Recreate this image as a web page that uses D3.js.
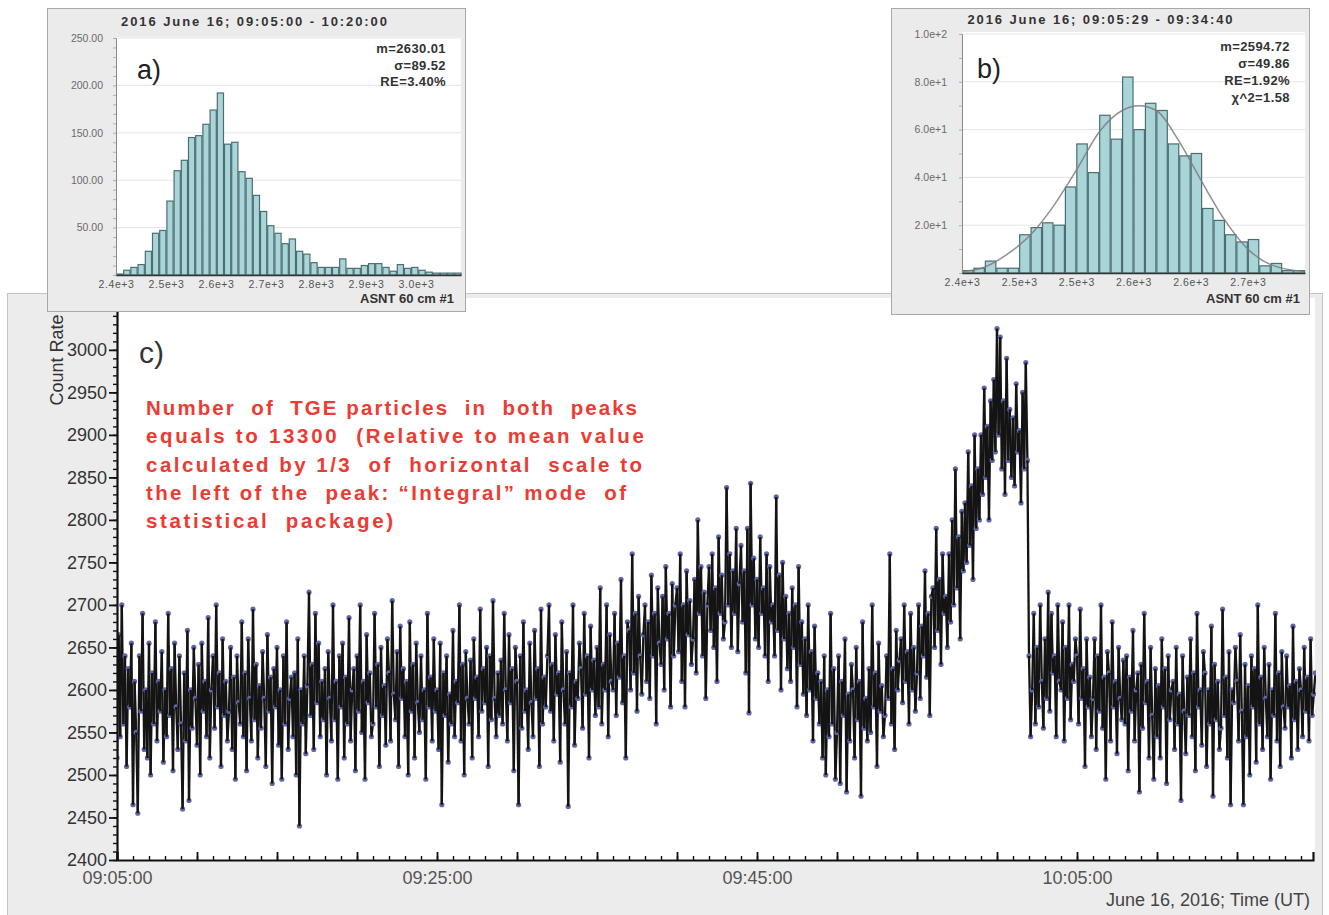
<!DOCTYPE html>
<html>
<head>
<meta charset="utf-8">
<script src="https://cdn.jsdelivr.net/npm/d3@7/dist/d3.min.js"></script>
<style>
html,body{margin:0;padding:0;background:#fff;}
svg{display:block;font-family:"Liberation Sans",Arial,Helvetica,sans-serif;}
</style>
</head>
<body>
<svg id="chart" width="1329" height="915"></svg>
<script>
// ================= DATA =================
const seriesStart = "2016-06-16T09:05:00Z";
const seriesStepSeconds = 6;
const xDomainEnd = "2016-06-16T10:19:45Z";
const countRate = [
2520,2665,2545,2700,2560,2640,2510,2625,2580,2655,
2465,2610,2550,2455,2640,2575,2690,2530,2600,2520,
2655,2500,2620,2560,2680,2540,2610,2575,2645,2515,
2600,2545,2690,2570,2625,2505,2655,2580,2530,2640,
2560,2460,2620,2540,2670,2470,2600,2555,2650,2590,
2535,2630,2500,2655,2575,2610,2545,2685,2520,2600,
2640,2555,2700,2580,2620,2510,2660,2570,2610,2540,
2575,2650,2530,2615,2495,2640,2585,2560,2680,2545,
2620,2505,2660,2590,2540,2695,2565,2630,2520,2605,
2555,2645,2590,2510,2665,2575,2615,2490,2625,2580,
2650,2535,2600,2495,2640,2560,2680,2530,2590,2615,
2545,2620,2500,2660,2440,2600,2560,2640,2525,2605,
2715,2570,2630,2530,2690,2585,2655,2545,2610,2565,
2625,2500,2645,2590,2540,2700,2565,2610,2495,2640,
2580,2655,2520,2615,2560,2685,2540,2600,2625,2505,
2640,2575,2700,2550,2610,2495,2665,2585,2620,2545,
2560,2690,2580,2630,2510,2650,2570,2605,2535,2660,
2620,2540,2705,2595,2565,2645,2510,2675,2590,2625,
2545,2610,2500,2680,2575,2630,2520,2655,2585,2550,
2640,2565,2600,2495,2690,2580,2615,2540,2660,2575,
2600,2530,2655,2465,2620,2570,2640,2515,2595,2560,
2670,2545,2610,2585,2700,2540,2630,2500,2645,2590,
2560,2635,2520,2660,2590,2615,2545,2695,2575,2625,
2585,2650,2510,2640,2565,2705,2590,2545,2620,2570,
2635,2560,2690,2600,2540,2665,2585,2625,2505,2650,
2610,2465,2640,2555,2680,2575,2600,2530,2655,2585,
2545,2670,2590,2625,2510,2695,2560,2615,2580,2640,
2700,2575,2630,2540,2665,2595,2620,2515,2680,2600,
2560,2645,2463,2620,2580,2700,2535,2610,2590,2655,
2625,2555,2690,2595,2640,2520,2675,2600,2635,2570,
2650,2580,2720,2560,2630,2600,2700,2545,2665,2610,
2600,2690,2570,2655,2615,2730,2585,2640,2520,2680,
2670,2600,2760,2620,2690,2575,2710,2640,2595,2665,
2700,2610,2680,2590,2735,2640,2690,2560,2720,2655,
2630,2710,2600,2745,2660,2690,2580,2725,2640,2700,
2720,2645,2760,2610,2700,2580,2740,2665,2705,2630,
2660,2730,2620,2800,2690,2745,2640,2715,2590,2700,
2745,2670,2760,2650,2720,2610,2780,2690,2735,2660,
2680,2838,2700,2760,2650,2740,2690,2790,2645,2725,
2770,2680,2740,2620,2790,2573,2843,2700,2755,2660,
2730,2650,2780,2690,2720,2640,2760,2610,2745,2680,
2700,2640,2827,2670,2735,2600,2750,2660,2710,2625,
2690,2610,2720,2650,2700,2580,2745,2630,2680,2595,
2660,2570,2700,2600,2645,2540,2675,2590,2620,2560,
2610,2520,2640,2500,2600,2545,2690,2560,2625,2495,
2550,2640,2490,2610,2570,2660,2480,2595,2540,2630,
2600,2520,2650,2565,2610,2475,2680,2555,2590,2540,
2625,2550,2700,2580,2620,2510,2655,2575,2605,2545,
2570,2640,2590,2760,2560,2625,2530,2670,2600,2635,
2660,2585,2700,2610,2645,2560,2690,2600,2650,2575,
2620,2700,2590,2675,2640,2740,2615,2690,2570,2710,
2720,2650,2790,2670,2730,2630,2760,2690,2710,2650,
2760,2680,2800,2700,2860,2720,2780,2660,2810,2740,
2820,2750,2880,2770,2840,2730,2900,2790,2860,2800,
2900,2830,2955,2850,2910,2800,2940,2870,2965,2880,
3025,2900,3015,2860,2940,2830,2990,2870,2930,2850,
2920,2840,2960,2880,2905,2820,2950,2860,2985,2870,
2640,2545,2600,2690,2560,2650,2580,2700,2610,2555,
2660,2590,2715,2575,2690,2620,2640,2545,2700,2610,
2600,2680,2540,2650,2590,2700,2565,2630,2610,2660,
2640,2560,2695,2590,2625,2510,2660,2580,2615,2545,
2590,2660,2530,2640,2575,2700,2555,2615,2495,2645,
2620,2540,2680,2580,2610,2525,2650,2590,2565,2635,
2560,2640,2505,2615,2575,2670,2540,2600,2620,2480,
2630,2555,2690,2585,2610,2520,2650,2570,2495,2625,
2545,2605,2520,2660,2580,2625,2490,2640,2565,2600,
2610,2530,2650,2560,2595,2470,2640,2575,2525,2615,
2570,2660,2545,2620,2505,2690,2580,2600,2535,2645,
2620,2510,2600,2560,2675,2475,2630,2565,2610,2530,
2555,2695,2570,2615,2520,2645,2465,2600,2585,2650,
2610,2540,2665,2575,2465,2630,2545,2605,2500,2640,
2580,2625,2515,2700,2560,2615,2530,2650,2590,2545,
2630,2495,2600,2570,2690,2540,2620,2510,2645,2580,
2555,2640,2580,2605,2520,2675,2565,2610,2530,2625,
2600,2545,2650,2575,2615,2540,2660,2570,2595,2620
];
const yTickValues = [2400,2450,2500,2550,2600,2650,2700,2750,2800,2850,2900,2950,3000];
const xLabelTimes = ["09:05:00","09:25:00","09:45:00","10:05:00"];
const yAxisTitle = "Count Rate";
const xAxisTitle = "June 16, 2016; Time (UT)";
const panelLabelC = "c)";
const noteLines = [
  "Number  of  TGE particles  in  both  peaks",
  "equals to 13300  (Relative to mean value",
  "calculated by 1/3  of  horizontal  scale to",
  "the left of the  peak: \u201cIntegral\u201d mode  of",
  "statistical  package)"
];

const histA_title = "2016 June 16; 09:05:00 - 10:20:00";
const histA_binStart = 2400;
const histA_binWidth = 14.4;
const histA_counts = [1,5,8,11,25,44,47,78,110,121,145,147,159,174,192,138,140,109,102,84,67,52,44,33,38,25,22,13,8,8,8,17,7,7,10,12,12,8,4,11,7,8,5,3,2,2,2,2];
const histA_yTicks = [50,100,150,200,250];
const histA_xTicks = [2400,2500,2600,2700,2800,2900,3000];
const histA_xLabels = ["2.4e+3","2.5e+3","2.6e+3","2.7e+3","2.8e+3","2.9e+3","3.0e+3"];
const histA_stats = ["m=2630.01","\u03c3=89.52","RE=3.40%"];
const histA_label = "a)";
const histA_axisTitle = "ASNT 60 cm #1";

const histB_title = "2016 June 16; 09:05:29 - 09:34:40";
const histB_binStart = 2400;
const histB_binWidth = 10;
const histB_counts = [1,2,5,2,2,16,19,21,20,36,54,42,66,56,82,60,71,68,54,49,50,27,22,16,13,14,3,4,1,1];
const histB_yTicks = [20,40,60,80,100];
const histB_yLabels = ["2.0e+1","4.0e+1","6.0e+1","8.0e+1","1.0e+2"];
const histB_xTicks = [2400,2450,2500,2550,2600,2650];
const histB_xLabels = ["2.4e+3","2.5e+3","2.5e+3","2.6e+3","2.6e+3","2.7e+3"];
const histB_fitX = [2400,2420,2440,2460,2480,2500,2520,2540,2555,2570,2590,2610,2630,2650,2670,2700];
const histB_fitY = [0.5,2.5,8,16,28,43,59,68,70,68,55,38,22,10,3.5,0.5];
const histB_stats = ["m=2594.72","\u03c3=49.86","RE=1.92%","\u03c7^2=1.58"];
const histB_label = "b)";
const histB_axisTitle = "ASNT 60 cm #1";

// ================= DRAW =================
const svg = d3.select("#chart");
const defs = svg.append("defs");

// ---- main panel ----
svg.append("rect").attr("x",7.5).attr("y",293.5).attr("width",1315).attr("height",640)
  .attr("fill","#ececec").attr("stroke","#c4c4c4");
const M = {l:117, r:1313, t:298, b:860};
svg.append("rect").attr("x",M.l).attr("y",M.t).attr("width",M.r+2-M.l).attr("height",M.b-M.t).attr("fill","#fff");

const parseUTC = d3.utcParse("%Y-%m-%dT%H:%M:%SZ");
const t0 = parseUTC(seriesStart);
const tEnd = parseUTC(xDomainEnd);
const x = d3.scaleUtc().domain([t0, tEnd]).range([M.l, M.r]);
const y = d3.scaleLinear().domain([2400, 3061]).range([M.b, M.t]);

defs.append("clipPath").attr("id","clipMain").append("rect")
  .attr("x",M.l).attr("y",M.t).attr("width",M.r-M.l+3).attr("height",M.b-M.t);

const pts = countRate.map((v,i)=>({t:new Date(t0.getTime()+i*seriesStepSeconds*1000), v}));
const gS = svg.append("g").attr("clip-path","url(#clipMain)");
gS.selectAll("g.pt").data(pts).join("g").attr("class","pt").each(function(d,i){
  const s = d3.select(this);
  if(i>0){
    const p = pts[i-1];
    s.append("line").attr("x1",x(p.t)).attr("y1",y(p.v)).attr("x2",x(d.t)).attr("y2",y(d.v))
      .attr("stroke","#141414").attr("stroke-width",2.3);
  }
  s.append("circle").attr("cx",x(d.t)).attr("cy",y(d.v)).attr("r",2.6).attr("fill","#5d69a8");
});

// y axes
const yMinor = d3.range(2400, 3061, 10);
svg.append("g").attr("transform",`translate(${M.l},0)`)
  .call(d3.axisLeft(y).tickValues(yMinor).tickSize(4).tickFormat(""))
  .call(g=>g.select(".domain").remove())
  .call(g=>g.selectAll("line").attr("stroke","#111").attr("stroke-width",1.4));
svg.append("g").attr("transform",`translate(${M.l},0)`)
  .call(d3.axisLeft(y).tickValues(yTickValues).tickSize(8).tickSizeOuter(0).tickPadding(2).tickFormat(d3.format("d")))
  .call(g=>g.select(".domain").attr("stroke","#111").attr("stroke-width",2.2))
  .call(g=>g.selectAll("line").attr("stroke","#111").attr("stroke-width",1.8))
  .call(g=>g.selectAll("text").attr("font-size",18).attr("fill","#333"));

// x axes
const xMinor = d3.utcMinute.every(1).range(t0, new Date(+tEnd+1));
const xMajor = d3.utcMinute.every(5).range(t0, new Date(+tEnd+1));
svg.append("g").attr("transform",`translate(0,${M.b})`)
  .call(d3.axisBottom(x).tickValues(xMinor).tickSize(-4).tickFormat(""))
  .call(g=>g.select(".domain").remove())
  .call(g=>g.selectAll("line").attr("stroke","#111").attr("stroke-width",1.4));
svg.append("g").attr("transform",`translate(0,${M.b})`)
  .call(d3.axisBottom(x).tickValues(xMajor).tickSizeInner(-8).tickSizeOuter(-8).tickFormat(""))
  .call(g=>g.select(".domain").attr("stroke","#111").attr("stroke-width",2.2))
  .call(g=>g.selectAll("line").attr("stroke","#111").attr("stroke-width",1.8));
const parseHMS = d3.utcParse("%Y-%m-%d %H:%M:%S");
const xLabTicks = xLabelTimes.map(s=>parseHMS("2016-06-16 "+s));
svg.append("g").attr("transform",`translate(0,${M.b})`)
  .call(d3.axisBottom(x).tickValues(xLabTicks).tickSize(0).tickPadding(11).tickFormat(d3.utcFormat("%H:%M:%S")))
  .call(g=>g.select(".domain").remove())
  .call(g=>g.selectAll("text").attr("font-size",18).attr("fill","#555"));

// titles
svg.append("text").attr("transform","translate(63,360) rotate(-90)").attr("text-anchor","middle")
  .attr("font-size",18).attr("fill","#333").text(yAxisTitle);
svg.append("text").attr("x",1310).attr("y",906).attr("text-anchor","end")
  .attr("font-size",18).attr("fill","#444").text(xAxisTitle);
svg.append("text").attr("x",139).attr("y",363).attr("font-size",30).attr("fill","#333").text(panelLabelC);

const noteWidths = [491,498,496,480,247];
const noteBase = [415,443,472,500,528];
svg.append("g").selectAll("text").data(noteLines).join("text")
  .attr("x",146).attr("y",(d,i)=>noteBase[i])
  .attr("font-size",20.5).attr("font-weight","bold").attr("fill","#ec3b33")
  .attr("textLength",(d,i)=>noteWidths[i]).attr("lengthAdjust","spacing")
  .style("white-space","pre").text(d=>d);

// ---- histograms ----
function drawHist(o){
  const g = svg.append("g");
  g.append("rect").attr("x",o.box.x).attr("y",o.box.y).attr("width",o.box.w).attr("height",o.box.h)
    .attr("fill","#ebebeb").attr("stroke","#a8a8a8");
  g.append("rect").attr("x",o.plot.l).attr("y",o.plot.t).attr("width",o.plot.r-o.plot.l).attr("height",o.plot.b-o.plot.t)
    .attr("fill","#fff");
  const hx = d3.scaleLinear().domain(o.xDomain).range([o.plot.l,o.plot.r]);
  const hy = d3.scaleLinear().domain(o.yDomain).range([o.plot.b,o.yTopPx]);
  g.append("g").selectAll("line").data(o.yTicks).join("line")
    .attr("x1",o.plot.l).attr("x2",o.plot.r).attr("y1",d=>hy(d)).attr("y2",d=>hy(d))
    .attr("stroke","#e4e4e4").attr("stroke-width",1);
  g.append("g").selectAll("rect").data(o.counts).join("rect")
    .attr("x",(d,i)=>hx(o.binStart+i*o.binWidth)+0.5)
    .attr("width",hx(o.binStart+o.binWidth)-hx(o.binStart)-1)
    .attr("y",d=>hy(d)).attr("height",d=>o.plot.b-hy(d))
    .attr("fill","#a9d5d8").attr("stroke","#4c6e72").attr("stroke-width",1.2);
  if(o.fitX){
    const fd = o.fitX.map((v,i)=>[v,o.fitY[i]]);
    g.append("path").datum(fd)
      .attr("d",d3.line().x(d=>hx(d[0])).y(d=>hy(d[1])).curve(d3.curveMonotoneX))
      .attr("fill","none").attr("stroke","#7d7d7d").attr("stroke-width",1.5).attr("opacity",0.85);
  }
  const minor = d3.range(0, o.yDomain[1]+0.1, 10);
  g.append("g").attr("transform",`translate(${o.plot.l},0)`)
    .call(d3.axisLeft(hy).tickValues(minor).tickSize(3).tickFormat(""))
    .call(a=>a.select(".domain").attr("stroke","#8a8a8a"))
    .call(a=>a.selectAll("line").attr("stroke","#b0b0b0"));
  g.append("g").attr("transform",`translate(${o.plot.l},0)`)
    .call(d3.axisLeft(hy).tickValues(o.yTicks).tickSize(0).tickPadding(o.yPad).tickFormat((d,i)=>o.yLabels[i]))
    .call(a=>a.select(".domain").remove())
    .call(a=>a.selectAll("text").attr("font-size",10.5).attr("fill","#6a6a6a"));
  g.append("g").attr("transform",`translate(0,${o.plot.b})`)
    .call(d3.axisBottom(hx).tickValues(o.xTicks).tickSize(0).tickPadding(6).tickFormat((d,i)=>o.xLabels[i]))
    .call(a=>a.select(".domain").attr("stroke","#333").attr("stroke-width",1.6))
    .call(a=>a.selectAll("text").attr("font-size",10.5).attr("fill","#555").attr("letter-spacing","0.6px"));
  g.append("text").attr("x",o.titlePos[0]).attr("y",o.titlePos[1]).attr("text-anchor","middle")
    .attr("font-size",13).attr("font-weight","bold").attr("fill","#333")
    .attr("textLength",o.titleLen).attr("lengthAdjust","spacing").text(o.title);
  g.append("g").selectAll("text").data(o.stats).join("text")
    .attr("x",o.statsX).attr("y",(d,i)=>o.statsY0+i*o.statsDy).attr("text-anchor","end")
    .attr("font-size",13).attr("font-weight","bold").attr("fill","#333").attr("letter-spacing","0.4px").text(d=>d);
  g.append("text").attr("x",o.labelPos[0]).attr("y",o.labelPos[1]).attr("font-size",27).attr("fill","#222").text(o.label);
  g.append("text").attr("x",o.axisTitlePos[0]).attr("y",o.axisTitlePos[1]).attr("text-anchor","end")
    .attr("font-size",13).attr("font-weight","bold").attr("fill","#333").text(o.axisTitle);
}

drawHist({
  box:{x:47.5,y:8.5,w:418,h:303},
  plot:{l:116,r:461,t:37,b:275}, yTopPx:38,
  xDomain:[2400,3090], yDomain:[0,250],
  counts:histA_counts, binStart:histA_binStart, binWidth:histA_binWidth,
  yTicks:histA_yTicks, yLabels:histA_yTicks.map(d3.format(".2f")), yPad:13,
  xTicks:histA_xTicks, xLabels:histA_xLabels,
  title:histA_title, titlePos:[254,26], titleLen:266,
  stats:histA_stats, statsX:446, statsY0:53, statsDy:16.5,
  label:histA_label, labelPos:[137,79],
  axisTitle:histA_axisTitle, axisTitlePos:[454,303]
});
drawHist({
  box:{x:891.5,y:8.5,w:418,h:306},
  plot:{l:962,r:1305,t:32,b:273}, yTopPx:34,
  xDomain:[2400,2700], yDomain:[0,100],
  counts:histB_counts, binStart:histB_binStart, binWidth:histB_binWidth,
  fitX:histB_fitX, fitY:histB_fitY,
  yTicks:histB_yTicks, yLabels:histB_yLabels, yPad:15,
  xTicks:histB_xTicks, xLabels:histB_xLabels,
  title:histB_title, titlePos:[1100,24], titleLen:265,
  stats:histB_stats, statsX:1290, statsY0:51, statsDy:17,
  label:histB_label, labelPos:[977,78],
  axisTitle:histB_axisTitle, axisTitlePos:[1300,303]
});
</script>
</body>
</html>
